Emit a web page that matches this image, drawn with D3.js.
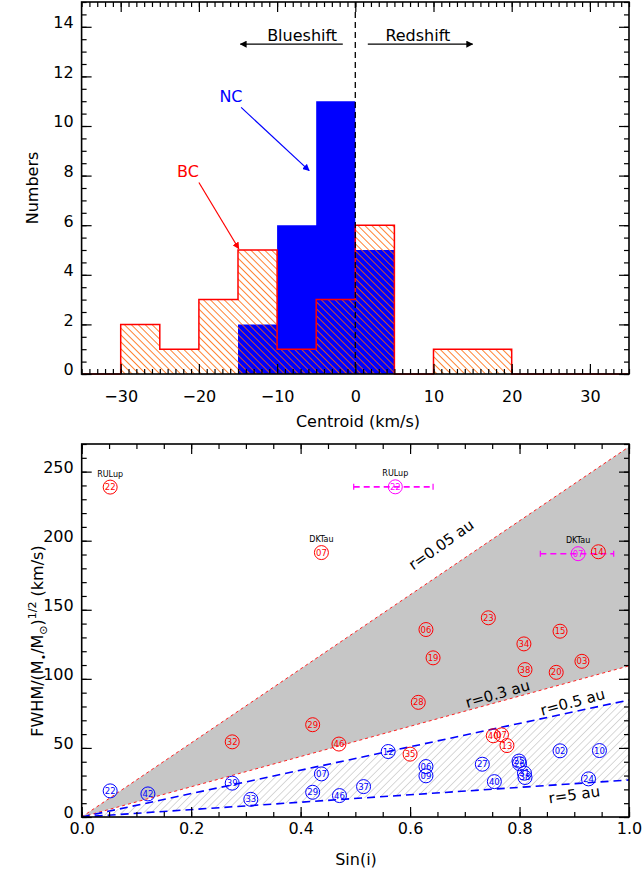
<!DOCTYPE html>
<html><head><meta charset="utf-8">
<script src="https://cdn.jsdelivr.net/npm/d3@7"></script>
<style>
body{margin:0;background:#fff}
svg{display:block}
text{font-family:"DejaVu Sans",sans-serif}
</style>
</head><body>
<svg id="c" width="642" height="877"></svg>
<script>
// ---------- data: histogram (top) ----------
const bcEdges = [-30,-25,-20,-15,-10,-5,0,5,10,15,20];
const bcCounts = [2,1,3,5,1,3,6,0,1,1];
const ncEdges = [-15,-10,-5,0,5];
const ncCounts = [2,6,11,5];
const histXTicks = [-30,-20,-10,0,10,20,30];
const histYTicks = [0,2,4,6,8,10,12,14];

// ---------- data: scatter (bottom) ----------
const bcIds  = ["22","07","23","06","19","34","15","03","38","20","14","28","40","07","13","35","29","32","46"];
const bcSini = [0.052,0.438,0.743,0.629,0.642,0.808,0.874,0.914,0.810,0.867,0.944,0.615,0.752,0.767,0.777,0.600,0.422,0.275,0.470];
const bcFwhm = [238.8,191.4,144.2,135.7,115.2,125.3,134.5,112.7,106.7,104.7,192.0,83.0,58.8,59.5,51.7,45.5,66.8,54.4,52.8];

const ncIds  = ["22","42","39","33","07","29","46","37","12","06","09","27","40","25","26","31","38","02","10","24"];
const ncSini = [0.052,0.121,0.275,0.309,0.438,0.422,0.471,0.515,0.560,0.629,0.629,0.732,0.754,0.799,0.800,0.809,0.810,0.874,0.946,0.926];
const ncFwhm = [18.9,16.7,24.5,12.8,31.2,17.9,15.5,22.0,47.4,36.5,29.8,38.2,25.6,40.5,38.6,31.7,28.6,47.9,48.1,27.6];

const magIds  = ["22","07"];
const magNames = ["RULup","DKTau"];
const magSini = [0.573,0.907];
const magFwhm = [239.0,190.6];
const magLo   = [0.497,0.838];
const magHi   = [0.642,0.972];

const nameIdx = [0,1];          // red points labelled with star names
const nameText = ["RULup","DKTau"];

// Keplerian radius lines: FWHM value reached at sin(i)=1
const radiusLabels = ["r=0.05 au","r=0.3 au","r=0.5 au","r=5 au"];
const radiusFwhmAt1 = [268,109.4,84.7,26.8];

const scatXTicks = [0,0.2,0.4,0.6,0.8,1.0];
const scatYTicks = [0,50,100,150,200,250];

// ---------- setup ----------
const svg = d3.select("#c");
const defs = svg.append("defs");

function hatch(id, color, spacing, width, angle){
  const p = defs.append("pattern").attr("id",id).attr("patternUnits","userSpaceOnUse")
    .attr("width",spacing).attr("height",spacing).attr("patternTransform",`rotate(${angle})`);
  p.append("line").attr("x1",0).attr("y1",-1).attr("x2",0).attr("y2",spacing+1)
    .attr("stroke",color).attr("stroke-width",width);
}
hatch("hatchOrange","#ff6400",4.9,1.6,-45);
hatch("hatchGray","#a0a0a0",5.2,0.8,45);

function marker(id,color){
  defs.append("marker").attr("id",id).attr("viewBox","0 0 10 10").attr("refX",9).attr("refY",5)
    .attr("markerWidth",7).attr("markerHeight",7).attr("markerUnits","userSpaceOnUse").attr("orient","auto")
    .append("path").attr("d","M0,0 L10,5 L0,10 z").attr("fill",color);
}
marker("arrK","#000"); marker("arrB","#0000ff"); marker("arrR","#ff0000");

// ---------- axis helper ----------
function frameAxes(g, x, y, xMajor, xMinor, yMajor, yMinor, xFmt, yFmt, xPad){
  const [x0,x1] = x.range(), [y0,y1] = y.range();
  const bottom = g.append("g").attr("transform",`translate(0,${y0})`);
  bottom.call(d3.axisBottom(x).tickValues(xMinor).tickSize(-5).tickFormat(""));
  bottom.append("g").call(d3.axisBottom(x).tickValues(xMajor).tickSize(-10).tickPadding(xPad).tickFormat(xFmt));
  const top = g.append("g").attr("transform",`translate(0,${y1})`);
  top.call(d3.axisTop(x).tickValues(xMinor).tickSize(-5).tickFormat(""));
  top.append("g").call(d3.axisTop(x).tickValues(xMajor).tickSize(-10).tickFormat(""));
  const left = g.append("g").attr("transform",`translate(${x0},0)`);
  left.call(d3.axisLeft(y).tickValues(yMinor).tickSize(-5).tickFormat(""));
  const lm = left.append("g").call(d3.axisLeft(y).tickValues(yMajor).tickSize(-10).tickPadding(8).tickFormat(yFmt));
  lm.selectAll(".tick text").attr("dy","-0.0em");
  const right = g.append("g").attr("transform",`translate(${x1},0)`);
  right.call(d3.axisRight(y).tickValues(yMinor).tickSize(-5).tickFormat(""));
  right.append("g").call(d3.axisRight(y).tickValues(yMajor).tickSize(-10).tickFormat(""));
  g.selectAll(".domain").remove();
  g.selectAll(".tick line").attr("stroke","#000").attr("stroke-width",1.2);
  g.selectAll(".tick text").attr("font-size",16).attr("font-family","DejaVu Sans").attr("fill","#000");
  g.append("rect").attr("x",x0).attr("y",y1).attr("width",x1-x0).attr("height",y0-y1)
    .attr("fill","none").attr("stroke","#000").attr("stroke-width",1.6);
}

// ================= TOP: histogram =================
const xH = d3.scaleLinear([-35,35],[81.6,629]);
const yH = d3.scaleLinear([0,15],[374,2]);
const gH = svg.append("g");

function stepPts(edges, counts){
  const pts = [];
  counts.forEach((c,i)=>{ pts.push([edges[i],c]); pts.push([edges[i+1],c]); });
  return pts;
}
// NC filled
const ncPts = [[ncEdges[0],0], ...stepPts(ncEdges,ncCounts), [ncEdges[ncEdges.length-1],0]];
gH.append("path").attr("d", d3.line().x(d=>xH(d[0])).y(d=>yH(d[1]))(ncPts)+"Z").attr("fill","#0000ff");
// BC hatched
const bcPts = [[bcEdges[0],0], ...stepPts(bcEdges,bcCounts), [bcEdges[bcEdges.length-1],0]];
gH.append("path").attr("d", d3.line().x(d=>xH(d[0])).y(d=>yH(d[1]))(bcPts)+"Z").attr("fill","url(#hatchOrange)");
const bcOutline = [[-35,0], ...bcPts, [35,0]];
gH.append("path").attr("d", d3.line().x(d=>xH(d[0])).y(d=>yH(d[1]))(bcOutline))
  .attr("fill","none").attr("stroke","#ff0000").attr("stroke-width",1.5);
// zero line
gH.append("line").attr("x1",xH(0)).attr("x2",xH(0)).attr("y1",yH(15)).attr("y2",yH(0))
  .attr("stroke","#000").attr("stroke-width",1.3).attr("stroke-dasharray","6,4");

frameAxes(gH, xH, yH, histXTicks, d3.range(-35,35.5,1), histYTicks, d3.range(0,15.01,0.5), d3.format("d"), d3.format("d"), 17);

// annotations
gH.append("text").attr("x",xH(-6.8)).attr("y",yH(13.65)).attr("text-anchor","middle").attr("dominant-baseline","central").attr("font-size",16).text("Blueshift");
gH.append("line").attr("x1",xH(-1.6)).attr("x2",xH(-14.7)).attr("y1",yH(13.3)).attr("y2",yH(13.3)).attr("stroke","#000").attr("stroke-width",1.2).attr("marker-end","url(#arrK)");
gH.append("text").attr("x",xH(8.0)).attr("y",yH(13.65)).attr("text-anchor","middle").attr("dominant-baseline","central").attr("font-size",16).text("Redshift");
gH.append("line").attr("x1",xH(1.6)).attr("x2",xH(15.0)).attr("y1",yH(13.3)).attr("y2",yH(13.3)).attr("stroke","#000").attr("stroke-width",1.2).attr("marker-end","url(#arrK)");

gH.append("text").attr("x",xH(-15.9)).attr("y",yH(11.17)).attr("text-anchor","middle").attr("dominant-baseline","central").attr("font-size",16).attr("fill","#0000ff").text("NC");
gH.append("line").attr("x1",xH(-14.6)).attr("y1",yH(10.75)).attr("x2",xH(-5.9)).attr("y2",yH(8.2)).attr("stroke","#0000ff").attr("stroke-width",1.2).attr("marker-end","url(#arrB)");
gH.append("text").attr("x",xH(-21.4)).attr("y",yH(8.15)).attr("text-anchor","middle").attr("dominant-baseline","central").attr("font-size",16).attr("fill","#ff0000").text("BC");
gH.append("line").attr("x1",xH(-20.0)).attr("y1",yH(7.72)).attr("x2",xH(-14.9)).attr("y2",yH(5.05)).attr("stroke","#ff0000").attr("stroke-width",1.2).attr("marker-end","url(#arrR)");

gH.append("text").attr("x",358).attr("y",421).attr("text-anchor","middle").attr("dominant-baseline","central").attr("font-size",16).text("Centroid (km/s)");
gH.append("text").attr("transform","translate(32,188) rotate(-90)").attr("text-anchor","middle").attr("dominant-baseline","central").attr("font-size",16).text("Numbers");

// ================= BOTTOM: scatter =================
const xS = d3.scaleLinear([0,1],[81.7,629]);
const yS = d3.scaleLinear([0,270],[817,444]);
const gS = svg.append("g");
const clip = defs.append("clipPath").attr("id","clipS").append("rect")
  .attr("x",81.7).attr("y",444).attr("width",629-81.7).attr("height",817-444);
const gC = gS.append("g").attr("clip-path","url(#clipS)");

function band(hiIdx, loIdx){
  return `M${xS(0)},${yS(0)} L${xS(1)},${yS(radiusFwhmAt1[hiIdx])} L${xS(1)},${yS(radiusFwhmAt1[loIdx])} Z`;
}
gC.append("path").attr("d",band(0,1)).attr("fill","#c6c6c6");
gC.append("path").attr("d",band(2,3)).attr("fill","url(#hatchGray)");
const lineColors = ["#ff2020","#ff2020","#0000ff","#0000ff"];
const lineDash = ["3,3","3,3","8,5","8,5"];
const lineW = [1,1,1.6,1.6];
radiusFwhmAt1.forEach((v,i)=>{
  gC.append("line").attr("x1",xS(0)).attr("y1",yS(0)).attr("x2",xS(1)).attr("y2",yS(v))
    .attr("stroke",lineColors[i]).attr("stroke-width",lineW[i]).attr("stroke-dasharray",lineDash[i]);
});
// line labels
const radLabPos = [[0.657,197],[0.76,89],[0.897,83],[0.9,16]];
const radLabAng = [-35,-16,-15,-8];
radiusLabels.forEach((t,i)=>{
  gS.append("text").attr("transform",`translate(${xS(radLabPos[i][0])},${yS(radLabPos[i][1])}) rotate(${radLabAng[i]})`)
    .attr("text-anchor","middle").attr("dominant-baseline","central").attr("font-size",15).text(t);
});

// magenta error bars
magIds.forEach((id,i)=>{
  gS.append("line").attr("x1",xS(magLo[i])).attr("x2",xS(magHi[i])).attr("y1",yS(magFwhm[i])).attr("y2",yS(magFwhm[i]))
    .attr("stroke","#ff00ff").attr("stroke-width",1.6).attr("stroke-dasharray","6,4");
  gS.append("line").attr("x1",xS(magLo[i])).attr("x2",xS(magLo[i])).attr("y1",yS(magFwhm[i])-3).attr("y2",yS(magFwhm[i])+3)
    .attr("stroke","#ff00ff").attr("stroke-width",1.2);
  gS.append("line").attr("x1",xS(magHi[i])).attr("x2",xS(magHi[i])).attr("y1",yS(magFwhm[i])-3).attr("y2",yS(magFwhm[i])+3)
    .attr("stroke","#ff00ff").attr("stroke-width",1.2);
});

function pts(ids, xs, ys, color){
  ids.forEach((id,i)=>{
    const g = gS.append("g").attr("transform",`translate(${xS(xs[i])},${yS(ys[i])})`);
    g.append("circle").attr("r",7).attr("fill","none").attr("stroke",color).attr("stroke-width",1);
    g.append("text").attr("text-anchor","middle").attr("dominant-baseline","central").attr("font-size",8.5)
      .attr("font-family","Liberation Sans").attr("fill",color).text(id);
  });
}
pts(ncIds,ncSini,ncFwhm,"#0000ff");
pts(bcIds,bcSini,bcFwhm,"#ff0000");
pts(magIds,magSini,magFwhm,"#ff00ff");

nameIdx.forEach((k,i)=>{
  gS.append("text").attr("x",xS(bcSini[k])).attr("y",yS(bcFwhm[k])-13).attr("text-anchor","middle")
    .attr("dominant-baseline","central").attr("font-size",8).attr("font-family","Liberation Sans").text(nameText[i]);
});
magIds.forEach((id,i)=>{
  gS.append("text").attr("x",xS(magSini[i])).attr("y",yS(magFwhm[i])-13).attr("text-anchor","middle")
    .attr("dominant-baseline","central").attr("font-size",8).attr("font-family","Liberation Sans").text(magNames[i]);
});

frameAxes(gS, xS, yS, scatXTicks, d3.range(0,1.0001,0.05), scatYTicks, d3.range(0,270.1,10), d3.format(".1f"), d3.format("d"), 6);

// y tick labels sit slightly above their ticks, as in the original
svg.selectAll(".tick text").filter(function(){ return this.getAttribute("x") && +this.getAttribute("x") < 0; })
  .attr("dy","0.05em");

gS.append("text").attr("x",356).attr("y",859).attr("text-anchor","middle").attr("dominant-baseline","central").attr("font-size",16).text("Sin(i)");
const yl = gS.append("text").attr("transform","translate(37,641) rotate(-90)").attr("text-anchor","middle").attr("font-size",16).attr("dy","0.35em");
yl.append("tspan").text("FWHM/(M");
yl.append("tspan").attr("font-size",11).attr("dy",4).text("•");
yl.append("tspan").attr("dy",-4).text("/M");
yl.append("tspan").attr("font-size",11).attr("dy",4).text("⊙");
yl.append("tspan").attr("dy",-4).text(")");
yl.append("tspan").attr("font-size",11).attr("dy",-7).text("1/2");
yl.append("tspan").attr("dy",7).text(" (km/s)");
</script>
</body></html>
